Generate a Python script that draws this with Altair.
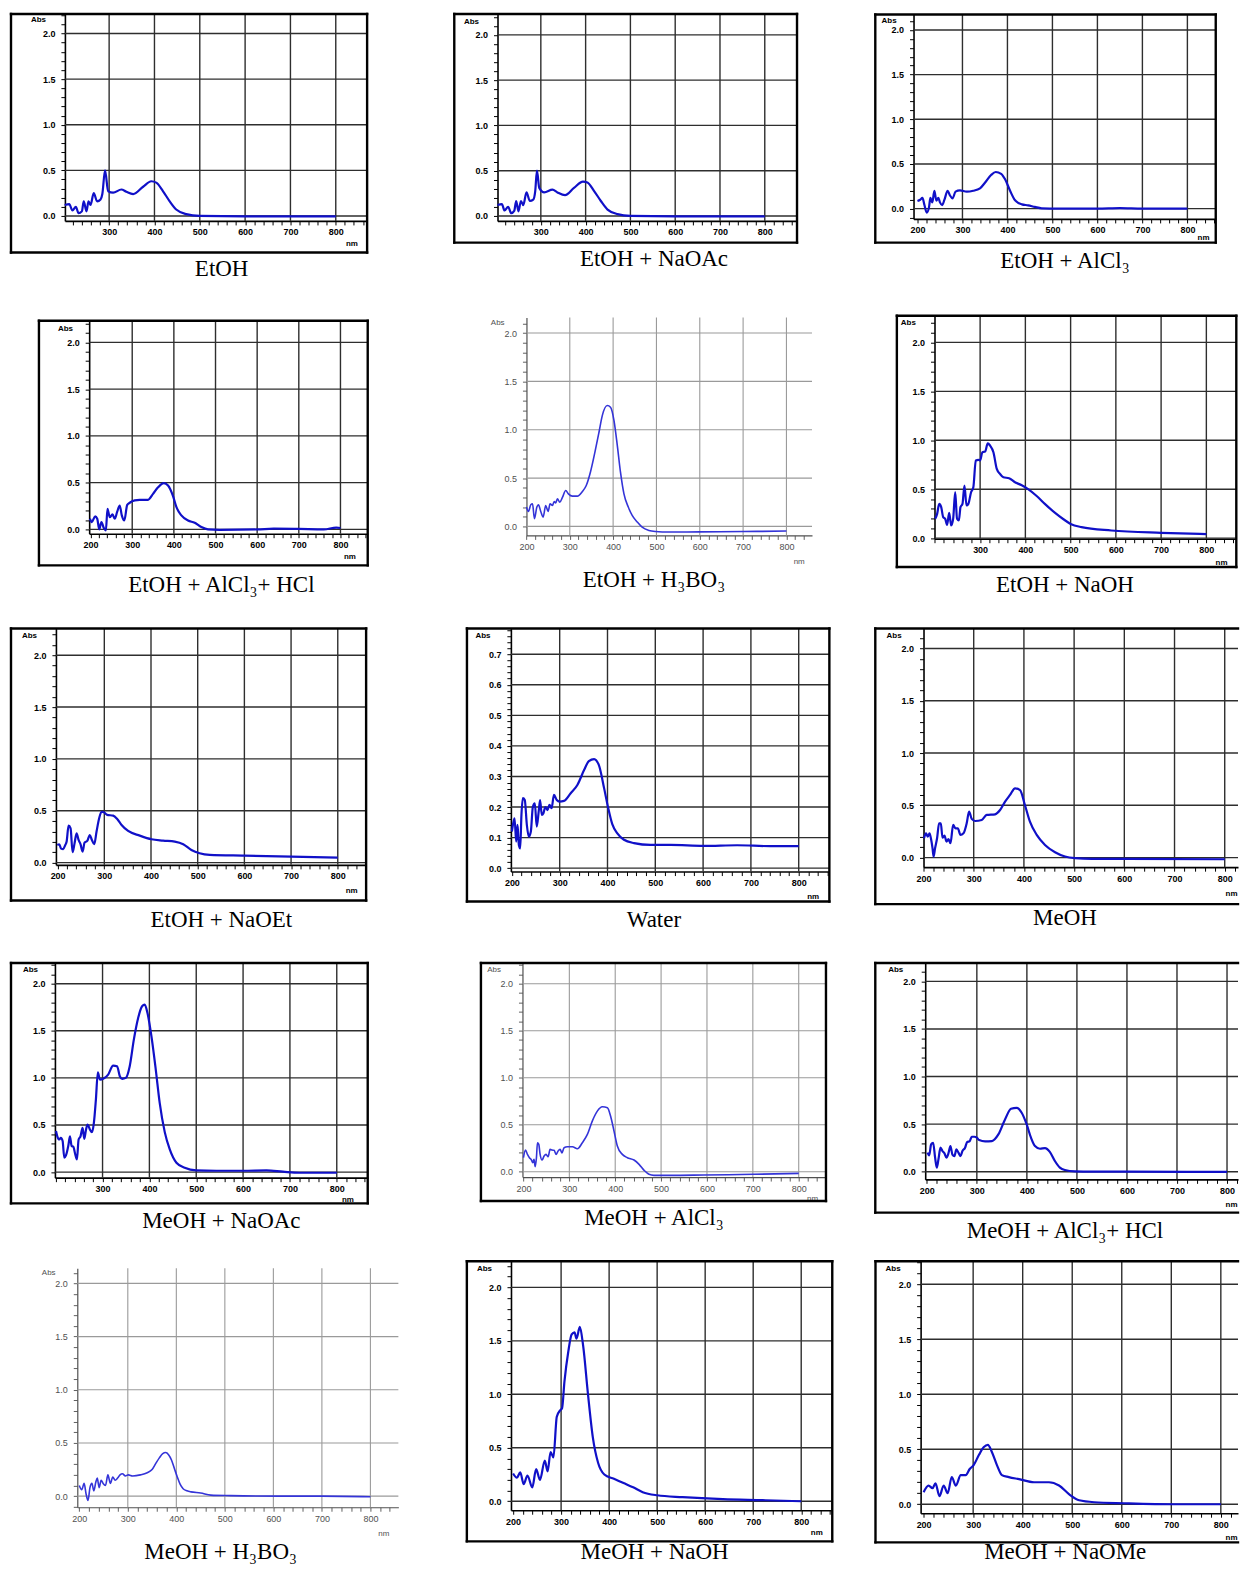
import math
import altair as alt
import pandas as pd

# ---------------- data ----------------
CAPTIONS = ["EtOH", "EtOH + NaOAc", "EtOH + AlCl₃",
            "EtOH + AlCl₃+ HCl", "EtOH + H₃BO₃", "EtOH + NaOH",
            "EtOH + NaOEt", "Water", "MeOH",
            "MeOH + NaOAc", "MeOH + AlCl₃", "MeOH + AlCl₃+ HCl",
            "MeOH + H₃BO₃", "MeOH + NaOH", "MeOH + NaOMe"]

X_GRID = [300, 400, 500, 600, 700, 800]

ETOH_NM = [202, 212, 219, 226.6, 232.5, 239.8, 244, 250, 254.5, 259, 266, 273.6, 281, 285, 291, 297.8, 308.8, 327, 338, 353,
           375, 393, 404, 419, 433.6, 448, 470, 500, 600, 700, 800]
ETOH_ABS = [0.12, 0.13, 0.06, 0.10, 0.03, 0.05, 0.16, 0.05, 0.16, 0.12, 0.25, 0.16, 0.18, 0.24, 0.50, 0.27, 0.255, 0.29, 0.265, 0.24,
            0.32, 0.38, 0.365, 0.27, 0.16, 0.07, 0.02, 0.0, -0.005, -0.005, -0.005]

ETOH_NAOAC_NM = [203.4, 213, 219, 227, 234, 240.6, 245, 250, 255.6, 260.8, 268, 275.6, 283, 287.5, 291.3, 296.5, 307.6, 326, 337, 354,
                 374, 394, 404, 419, 434, 449, 471, 500, 600, 700, 800]
ETOH_NAOAC_ABS = [0.12, 0.13, 0.06, 0.10, 0.03, 0.055, 0.165, 0.05, 0.165, 0.12, 0.26, 0.165, 0.18, 0.275, 0.50, 0.31, 0.26, 0.29, 0.26, 0.23,
                  0.31, 0.38, 0.37, 0.275, 0.165, 0.07, 0.02, 0.0, -0.005, -0.005, -0.005]

ETOH_ALCL3_NM = [200, 206, 211, 215.5, 220.6, 225.8, 228.7, 233, 237.6, 242, 246.4, 250, 255, 260, 267, 272, 278, 284.6, 294.5, 309.6,
                 324, 339, 350, 363.6, 374, 386, 394.8, 405.9, 417, 432, 446, 461, 476, 512, 600, 650, 700, 800]
ETOH_ALCL3_ABS = [0.086, 0.10, 0.12, 0.04, -0.045, 0.02, 0.12, 0.07, 0.20, 0.09, 0.12, 0.07, 0.04, 0.10, 0.20, 0.15, 0.115, 0.19, 0.205, 0.19,
                  0.20, 0.227, 0.29, 0.376, 0.41, 0.39, 0.328, 0.20, 0.093, 0.048, 0.037, 0.019, 0.004, 0.0, 0.0, 0.005, 0.0, 0.0]

ETOH_ALCL3_HCL_NM = [198.4, 203, 211, 216, 220.8, 226, 232, 236.7, 240.7, 246, 252.7, 258, 264, 270, 275, 281, 288, 294, 306, 318,
                     338, 350, 362, 376, 386, 398, 406, 418, 434, 450, 466, 482, 510, 600, 640, 700, 760, 790, 800]
ETOH_ALCL3_HCL_ABS = [0.114, 0.078, 0.14, 0.114, 0.0, 0.078, 0.014, -0.01, 0.22, 0.13, 0.16, 0.114, 0.19, 0.256, 0.15, 0.096, 0.263, 0.285, 0.31, 0.317,
                      0.317, 0.38, 0.45, 0.495, 0.47, 0.356, 0.24, 0.15, 0.096, 0.071, 0.025, 0.0, -0.004, 0.0, 0.008, 0.005, 0.0, 0.02, 0.015]

ETOH_H3BO3_NM = [200, 204.6, 210, 214, 218.4, 224, 227.6, 233, 238.4, 244.5, 250, 254.5, 260, 264, 267.6, 271.4, 277, 283, 290.6, 296.8,
                 306, 317.5, 329, 338, 348, 358, 367.4, 375, 386.6, 394, 402, 409.7, 417, 425, 435, 444, 455.8, 467, 482.6, 498,
                 529, 600, 700, 800]
ETOH_H3BO3_ABS = [0.2, 0.155, 0.224, 0.234, 0.08, 0.2, 0.224, 0.155, 0.096, 0.217, 0.155, 0.234, 0.217, 0.258, 0.244, 0.286, 0.25, 0.30, 0.372, 0.337,
                  0.313, 0.313, 0.361, 0.423, 0.568, 0.768, 0.974, 1.146, 1.25, 1.232, 1.095, 0.836, 0.561, 0.337, 0.2, 0.114, 0.045, -0.007, -0.041, -0.052,
                  -0.058, -0.056, -0.053, -0.048]

ETOH_NAOH_NM = [200.7, 205, 209.6, 214, 218.4, 222.8, 227, 231.6, 236, 240.4, 244.9, 249, 253, 256.6, 261, 265.4, 269.9, 274, 280, 285,
                290.4, 296.3, 300, 305, 311, 316.9, 322, 329.4, 336.8, 344, 351.5, 364, 377, 392, 406, 425, 443, 465, 485, 500,
                524, 590, 700, 800]
ETOH_NAOH_ABS = [0.197, 0.248, 0.35, 0.316, 0.214, 0.197, 0.136, 0.259, 0.129, 0.197, 0.469, 0.197, 0.18, 0.316, 0.35, 0.537, 0.333, 0.35, 0.469, 0.52,
                 0.793, 0.80, 0.793, 0.878, 0.884, 0.969, 0.946, 0.878, 0.707, 0.656, 0.622, 0.612, 0.571, 0.54, 0.50, 0.43, 0.35, 0.26, 0.19, 0.145,
                 0.112, 0.078, 0.054, 0.041]

ETOH_NAOET_NM = [199.3, 203.6, 207, 212, 216.4, 219.2, 223.5, 227.8, 232, 236.3, 240.6, 244.9, 249, 253.5, 257.7, 263.4, 269, 273.4, 278.4, 283.4,
                 289, 294, 299, 306, 319, 327.6, 337, 351, 376, 401, 426, 451, 469, 486.5, 504, 525.7, 600, 700, 800]
ETOH_NAOET_ABS = [0.17, 0.177, 0.138, 0.13, 0.17, 0.2, 0.356, 0.33, 0.1, 0.186, 0.283, 0.218, 0.177, 0.106, 0.193, 0.209, 0.266, 0.218, 0.177, 0.3,
                  0.427, 0.49, 0.485, 0.46, 0.453, 0.42, 0.363, 0.305, 0.26, 0.225, 0.212, 0.202, 0.177, 0.122, 0.09, 0.074, 0.067, 0.058, 0.048]

WATER_NM = [200, 202.8, 205.6, 209, 211.8, 214.6, 217.4, 220, 223, 227, 231.3, 235.5, 239.7, 243.8, 248, 252, 256.4, 259, 262.6, 266,
            270, 274.5, 278.6, 283, 288, 293.9, 299.5, 309, 323, 337, 351, 361, 372, 382, 393, 401, 410, 420.6, 434.5, 455.4,
            490, 532, 601.5, 671, 740.7, 800]
WATER_ABS = [0.12, 0.147, 0.163, 0.087, 0.142, 0.076, 0.065, 0.174, 0.229, 0.223, 0.142, 0.103, 0.12, 0.2, 0.212, 0.136, 0.19, 0.223, 0.174, 0.18,
             0.2, 0.19, 0.207, 0.196, 0.24, 0.223, 0.218, 0.22, 0.245, 0.272, 0.321, 0.35, 0.357, 0.337, 0.261, 0.2, 0.144, 0.114, 0.093, 0.082,
             0.076, 0.076, 0.073, 0.075, 0.072, 0.072]

MEOH_NM = [201, 205, 208.6, 212, 215, 218, 220, 223, 227, 231, 234.5, 237.8, 241.8, 245.8, 249.7, 253.7, 259, 264, 268.3, 273.6,
           279.6, 286, 290.8, 296, 302.8, 316, 326, 342.6, 352.5, 362.5, 372.4, 382.4, 392.3, 402, 412, 425.5, 442, 462, 481.8, 501.7,
           535, 600, 800]
MEOH_ABS = [0.185, 0.232, 0.2, 0.232, 0.178, 0.089, 0.01, 0.089, 0.185, 0.328, 0.328, 0.19, 0.21, 0.153, 0.178, 0.137, 0.312, 0.28, 0.28, 0.217,
            0.232, 0.328, 0.44, 0.37, 0.35, 0.36, 0.408, 0.414, 0.455, 0.535, 0.6, 0.662, 0.646, 0.503, 0.344, 0.217, 0.121, 0.051, 0.01, -0.006,
            -0.013, -0.013, -0.016]

MEOH_NAOAC_NM = [200.6, 203.4, 207.7, 211, 214.8, 218.3, 221.9, 226.8, 230.4, 234, 237.5, 241.8, 245.3, 248.9, 253, 257.4, 261, 264.5, 268, 273,
                 277.3, 281.5, 285.8, 290, 294.3, 301.4, 312, 322.7, 331, 336.9, 341.9, 349.7, 358, 366.8, 376, 384.5, 390, 395.9, 404.4, 413.6,
                 422, 432.8, 443.5, 457.7, 475.4, 500, 543, 600, 650, 685, 720, 800]
MEOH_NAOAC_ABS = [0.435, 0.38, 0.346, 0.364, 0.33, 0.152, 0.177, 0.276, 0.38, 0.276, 0.27, 0.187, 0.134, 0.346, 0.38, 0.47, 0.353, 0.445, 0.505, 0.452,
                  0.424, 0.523, 0.77, 1.06, 0.982, 0.99, 1.035, 1.13, 1.124, 1.018, 0.99, 1.0, 1.124, 1.406, 1.636, 1.76, 1.777, 1.689, 1.44, 1.088,
                  0.735, 0.424, 0.24, 0.099, 0.046, 0.018, 0.014, 0.014, 0.018, 0.004, -0.007, -0.007]

MEOH_ALCL3_NM = [200, 204.4, 208.7, 213, 217.4, 220.3, 223, 225.4, 228.3, 230.5, 233.4, 236.3, 240.6, 245, 249.3, 253.7, 258, 262.4, 266.8, 271,
                 275.5, 279.8, 284, 288.5, 295.8, 306.7, 317.6, 328.4, 339.3, 350, 361, 372, 383, 390, 397.4, 404.6, 415.5, 426.4, 441, 452,
                 463, 473.6, 484.5, 520.8, 593, 702, 800]
MEOH_ALCL3_ABS = [0.149, 0.23, 0.184, 0.149, 0.124, 0.096, 0.131, 0.053, 0.149, 0.308, 0.29, 0.184, 0.124, 0.166, 0.184, 0.159, 0.237, 0.23, 0.227, 0.184,
                  0.22, 0.237, 0.2, 0.255, 0.265, 0.265, 0.244, 0.308, 0.396, 0.538, 0.644, 0.69, 0.68, 0.59, 0.432, 0.273, 0.184, 0.149, 0.124, 0.078,
                  0.014, -0.028, -0.039, -0.039, -0.035, -0.028, -0.018]

MEOH_ALCL3_HCL_NM = [201.3, 204.7, 208.6, 212.6, 216.6, 220, 223.3, 227.3, 231.3, 235.3, 239.3, 243.2, 247.2, 251.2, 255.2, 259.2, 263.2, 267.2, 271.2, 276.5,
                     280.5, 285.8, 289.8, 295, 300, 304.6, 316.6, 330, 343, 356.3, 368.3, 379.6, 389.6, 399.6, 408.2, 416.2, 426.2, 436.2, 446.2, 456,
                     466, 476, 496, 529, 596, 800]
MEOH_ALCL3_HCL_ABS = [0.2, 0.171, 0.287, 0.304, 0.147, 0.042, 0.13, 0.252, 0.217, 0.192, 0.147, 0.192, 0.27, 0.18, 0.164, 0.234, 0.2, 0.164, 0.217, 0.252,
                      0.311, 0.322, 0.367, 0.367, 0.357, 0.332, 0.318, 0.322, 0.392, 0.549, 0.661, 0.671, 0.619, 0.497, 0.357, 0.269, 0.241, 0.248, 0.206, 0.112,
                      0.042, 0.017, 0.003, 0.0, 0.0, -0.003]

MEOH_H3BO3_NM = [200, 205, 210, 214, 218, 222, 226, 230, 234, 237, 241, 245, 249, 254, 259, 264, 269, 274, 279, 284,
                 289, 295, 301, 310, 326, 340, 350, 358, 365, 372, 378, 384, 390, 396, 402, 408, 414, 422, 430, 450,
                 471, 512, 614, 700, 800]
MEOH_H3BO3_ABS = [0.10, 0.06, 0.12, 0.02, -0.04, 0.08, 0.12, 0.05, 0.13, 0.17, 0.08, 0.15, 0.12, 0.10, 0.20, 0.12, 0.18, 0.15, 0.17, 0.20,
                  0.21, 0.19, 0.20, 0.19, 0.20, 0.22, 0.25, 0.31, 0.36, 0.40, 0.41, 0.39, 0.34, 0.26, 0.18, 0.11, 0.07, 0.05, 0.04, 0.03,
                  0.01, 0.005, 0.0, 0.0, -0.005]

MEOH_NAOH_NM = [200, 208, 215, 222, 230, 240, 248, 256, 266, 272, 278, 284, 291, 298, 302, 307, 315, 322, 328, 332,
                339, 346, 356, 366, 377, 390, 410, 430, 450, 470, 500, 553, 637, 720, 800]
MEOH_NAOH_ABS = [0.26, 0.22, 0.27, 0.16, 0.24, 0.13, 0.30, 0.20, 0.38, 0.28, 0.46, 0.41, 0.79, 0.85, 0.87, 1.12, 1.40, 1.56, 1.58, 1.52,
                 1.63, 1.45, 1.0, 0.6, 0.36, 0.25, 0.21, 0.17, 0.13, 0.085, 0.056, 0.038, 0.019, 0.01, 0.0]

MEOH_NAOME_NM = [200, 210, 218, 224, 232, 240.5, 248.6, 256.8, 265, 275, 285, 293, 301, 311.5, 321.6, 329.7, 337.8, 348, 358, 372,
                 392.6, 423, 453, 473.4, 494, 514, 544.6, 605, 706, 800]
MEOH_NAOME_ABS = [0.11, 0.17, 0.146, 0.19, 0.073, 0.17, 0.10, 0.247, 0.17, 0.265, 0.265, 0.32, 0.356, 0.447, 0.52, 0.54, 0.475, 0.356, 0.265, 0.247,
                  0.228, 0.20, 0.20, 0.17, 0.09, 0.036, 0.018, 0.009, 0.0, 0.0]

SERIES = [(ETOH_NM, ETOH_ABS), (ETOH_NAOAC_NM, ETOH_NAOAC_ABS), (ETOH_ALCL3_NM, ETOH_ALCL3_ABS),
          (ETOH_ALCL3_HCL_NM, ETOH_ALCL3_HCL_ABS), (ETOH_H3BO3_NM, ETOH_H3BO3_ABS), (ETOH_NAOH_NM, ETOH_NAOH_ABS),
          (ETOH_NAOET_NM, ETOH_NAOET_ABS), (WATER_NM, WATER_ABS), (MEOH_NM, MEOH_ABS),
          (MEOH_NAOAC_NM, MEOH_NAOAC_ABS), (MEOH_ALCL3_NM, MEOH_ALCL3_ABS), (MEOH_ALCL3_HCL_NM, MEOH_ALCL3_HCL_ABS),
          (MEOH_H3BO3_NM, MEOH_H3BO3_ABS), (MEOH_NAOH_NM, MEOH_NAOH_ABS), (MEOH_NAOME_NM, MEOH_NAOME_ABS)]

# ---------------- layout (page pixel geometry of each panel) ----------------
COLS = [(8, 440), (440, 850), (850, 1240)]
ROWS = [(8, 300), (300, 606), (606, 940), (940, 1246), (1246, 1567)]

GEO = [
    dict(plot=(65, 12.7, 367.7, 220), frame=(11, 12.7, 367.7, 251.7), xcal=((300, 109.3), (800, 336.3)), ycal=((0, 215), (2, 32.3)),
         absl=(38, 18), nml=(352, 243), cap=(222, 268), xlab0=300),
    dict(plot=(498.3, 12.7, 798.3, 220), frame=(455, 12.7, 798.3, 241.7), xcal=((300, 541.7), (800, 766)), ycal=((0, 215), (2, 33.7)),
         absl=(471.7, 20), nml=None, cap=(655, 258), xlab0=300),
    dict(plot=(915, 13.3, 1217.7, 218), frame=(876.7, 13.3, 1217.7, 241.7), xcal=((300, 964), (800, 1189.3)), ycal=((0, 207.7), (2, 28.7)),
         absl=(890, 19), nml=(1205, 237), cap=(1066.7, 260), xlab0=200),
    dict(plot=(89.3, 320, 368.3, 533.3), frame=(39, 320, 368.3, 565), xcal=((200, 90.7), (800, 341)), ycal=((0, 529), (2, 341.7)),
         absl=(65, 327.7), nml=(350, 556), cap=(221.7, 585), xlab0=200),
    dict(plot=(527.3, 316.7, 813.3, 535), frame=None, xcal=((200, 527.3), (800, 787.7)), ycal=((0, 526), (2, 332.3)),
         absl=(498, 322), nml=(800, 561), cap=(655, 580), xlab0=200, light=True),
    dict(plot=(936, 315, 1238.3, 538.3), frame=(898.3, 315, 1238.3, 566.7), xcal=((300, 981.7), (800, 1208.3)), ycal=((0, 537.7), (2, 341.7)),
         absl=(909.3, 321.7), nml=(1223, 562), cap=(1066.7, 585), xlab0=300),
    dict(plot=(56, 628.3, 366.7, 865), frame=(11, 628.3, 366.7, 900.7), xcal=((200, 57.7), (800, 338.3)), ycal=((0, 862.7), (2, 655)),
         absl=(29, 635), nml=(351.7, 891), cap=(221.7, 920), xlab0=200),
    dict(plot=(511.7, 628.3, 830.7, 871.7), frame=(467.7, 628.3, 830.7, 901.7), xcal=((200, 512.7), (800, 800)), ycal=((0, 868.3), (0.7, 654)),
         absl=(483.3, 635.7), nml=(814, 897), cap=(655, 920), xlab0=200, ymajor=0.1, yminor=0.02),
    dict(plot=(925, 628.3, 1240, 867.3), frame=(876.7, 628.3, None, 904.3), xcal=((200, 925), (800, 1226.7)), ycal=((0, 857.7), (2, 648.3)),
         absl=(895, 635), nml=(1233, 894), cap=(1066.7, 918.3), xlab0=200),
    dict(plot=(55, 963.3, 368.3, 1178.3), frame=(11, 963.3, 368.3, 1204), xcal=((300, 102.7), (800, 337.3)), ycal=((0, 1172.7), (2, 984)),
         absl=(30, 969.3), nml=(348, 1200), cap=(221.7, 1221.7), xlab0=300),
    dict(plot=(523.3, 963.3, 827.3, 1177.7), frame=(481.7, 963.3, 827.3, 1201.7), xcal=((200, 524.3), (800, 800)), ycal=((0, 1172.3), (2, 984)),
         absl=(494.3, 969.3), nml=(813.3, 1199), cap=(655, 1218.3), xlab0=200, light=True),
    dict(plot=(926.7, 963.3, 1240, 1180), frame=(876.7, 963.3, None, 1213.3), xcal=((200, 928.3), (800, 1229)), ycal=((0, 1172.3), (2, 981.7)),
         absl=(896.7, 969.3), nml=(1233, 1205), cap=(1066.7, 1231.7), xlab0=200),
    dict(plot=(77.4, 1269, 399, 1508.4), frame=None, xcal=((200, 79.4), (800, 371)), ycal=((0, 1497.3), (2, 1284.2)),
         absl=(48.3, 1273.5), nml=(384, 1534.5), cap=(221, 1553), xlab0=200, light=True),
    dict(plot=(511.8, 1262, 833.6, 1511.4), frame=(467.6, 1262, 833.6, 1542.6), xcal=((200, 513.9), (800, 802.5)), ycal=((0, 1502.4), (2, 1288.2)),
         absl=(484.7, 1269.3), nml=(817.6, 1533.6), cap=(655.7, 1553), xlab0=200),
    dict(plot=(922.1, 1262, 1240, 1514.4), frame=(876.9, 1262, None, 1543.6), xcal=((200, 925.1), (800, 1222.8)), ycal=((0, 1505.4), (2, 1285.1)),
         absl=(894, 1269.3), nml=(1233, 1538.6), cap=(1066.9, 1553), xlab0=200),
]

DARK = dict(grid="#2e2e2e", gridw=1.4, dom="#000000", domw=1.6, tick="#000000", lab="#000000", labw="bold",
            line="#1010c8", linew=2.2)
LIGHT = dict(grid="#9a9a9a", gridw=1.1, dom="#505050", domw=1.2, tick="#606060", lab="#505050", labw="normal",
             line="#3434d8", linew=1.6)

SANS = "Liberation Sans, Arial, sans-serif"
SERIF = "Liberation Serif, Times New Roman, serif"
ONE = pd.DataFrame({"k": [0]})


def make_panel(i, col, row):
    g = GEO[i]
    st = LIGHT if g.get("light") else DARK
    cx0, cx1 = COLS[col]
    ry0, ry1 = ROWS[row]
    CW, CH = cx1 - cx0, ry1 - ry0
    PL, PT, PR, PB = g["plot"]
    pl, pt, pr, pb = PL - cx0, PT - ry0, PR - cx0, PB - ry0   # plot box inside the cell
    (xa, pxa), (xb, pxb) = g["xcal"]
    (ya, pya), (yb, pyb) = g["ycal"]
    sx = (pxb - pxa) / (xb - xa)
    x0, x1 = xa + (PL - pxa) / sx, xa + (PR - pxa) / sx
    sy = (pya - pyb) / (yb - ya)
    ytop, ybot = ya + (pya - PT) / sy, ya + (pya - PB) / sy

    xticks = list(range(int(math.ceil(x0 / 20.0)) * 20, int(math.floor(x1)) + 1, 20))
    ymaj = g.get("ymajor", 0.5)
    ymin = g.get("yminor", 0.1)
    yticks = [round(k * ymin, 4) for k in range(int(math.ceil(ybot / ymin - 1e-9)), int(math.floor(ytop / ymin + 1e-9)) + 1)]
    ygrid = [round(k * ymaj, 4) for k in range(0, int(math.floor(ytop / ymaj + 1e-9)) + 1)]

    xlab_test = f"datum.value % 100 === 0 && datum.value >= {g['xlab0']} && datum.value <= 800"
    ymaj_test = f"abs(datum.value / {ymaj} - round(datum.value / {ymaj})) < 0.001"

    xscale = alt.Scale(domain=[x0, x1], range=[pl, pr], nice=False, zero=False)
    yscale = alt.Scale(domain=[ybot, ytop], range=[pb, pt], nice=False, zero=False)

    nml = g["nml"]
    xaxis_kw = dict(title="")
    if nml is not None:
        xaxis_kw = dict(title="nm", titleX=nml[0] - cx0, titleY=nml[1] - PB, titleAlign="center",
                        titleBaseline="middle", titleFont=SANS, titleFontSize=8, titleFontWeight=st["labw"],
                        titleColor=st["lab"])
    x_axis = alt.Axis(values=xticks, format="d", labelExpr=f"({xlab_test}) ? datum.label : ''",
                      grid=False, offset=pb - CH,
                      domainColor=st["dom"], domainWidth=st["domw"], tickColor=st["tick"], tickSize=4, tickWidth=1,
                      labelFont=SANS, labelFontSize=9, labelFontWeight=st["labw"], labelColor=st["lab"],
                      labelPadding=3, labelFlush=False, labelOverlap=False, **xaxis_kw)
    absl = g["absl"]
    y_axis = alt.Axis(values=yticks, format=".1f", labelExpr=f"({ymaj_test}) ? datum.label : ''",
                      grid=False, offset=-pl,
                      domainColor=st["dom"], domainWidth=st["domw"], tickColor=st["tick"], tickSize=4, tickWidth=1,
                      labelFont=SANS, labelFontSize=9, labelFontWeight=st["labw"], labelColor=st["lab"],
                      labelPadding=6, labelFlush=False, labelOverlap=False,
                      title="Abs", titleAngle=0, titleX=absl[0] - PL, titleY=absl[1] - ry0, titleAlign="center",
                      titleBaseline="middle", titleFont=SANS, titleFontSize=8, titleFontWeight=st["labw"],
                      titleColor=st["lab"])

    layers = []
    # grid lines at the major tick values, through the panel's own scales
    vgrid = pd.DataFrame({"nm": [v for v in X_GRID if x0 <= v <= x1]})
    layers.append(alt.Chart(vgrid).mark_rule(color=st["grid"], strokeWidth=st["gridw"]).encode(
        x=alt.X("nm:Q", scale=xscale, axis=x_axis), y=alt.value(pt), y2=alt.value(pb)))
    hgrid = pd.DataFrame({"abs": ygrid})
    layers.append(alt.Chart(hgrid).mark_rule(color=st["grid"], strokeWidth=st["gridw"]).encode(
        y=alt.Y("abs:Q", scale=yscale, axis=y_axis), x=alt.value(pl), x2=alt.value(pr)))

    fr = g["frame"]
    if fr is not None:
        L, T, R, B = fr
        l, t, b = L - cx0, T - ry0, B - ry0
        r = (R - cx0) if R is not None else CW
        fkw = dict(color="#000000", strokeWidth=2.4, strokeCap="square")
        layers.append(alt.Chart(ONE).mark_rule(**fkw).encode(x=alt.value(l), y=alt.value(t), y2=alt.value(b)))
        layers.append(alt.Chart(ONE).mark_rule(**fkw).encode(x=alt.value(l), x2=alt.value(r), y=alt.value(t)))
        layers.append(alt.Chart(ONE).mark_rule(**fkw).encode(x=alt.value(l), x2=alt.value(r), y=alt.value(b)))
        if R is not None:
            layers.append(alt.Chart(ONE).mark_rule(**fkw).encode(x=alt.value(r), y=alt.value(t), y2=alt.value(b)))

    nm_vals, ab_vals = SERIES[i]
    df = pd.DataFrame({"nm": nm_vals, "abs": ab_vals})
    layers.append(alt.Chart(df).mark_line(color=st["line"], strokeWidth=st["linew"], interpolate="monotone", clip=False).encode(
        x=alt.X("nm:Q", scale=xscale, axis=x_axis),
        y=alt.Y("abs:Q", scale=yscale, axis=y_axis),
    ))
    cap = g["cap"]
    layers.append(alt.Chart(ONE).mark_text(text=CAPTIONS[i], font=SERIF, fontSize=23, color="#000000",
                                            align="center", baseline="middle").encode(
        x=alt.value(cap[0] - cx0), y=alt.value(cap[1] - ry0)))
    return alt.layer(*layers).properties(width=CW, height=CH)


panels = [make_panel(r * 3 + c, c, r) for r in range(5) for c in range(3)]

chart = alt.ConcatChart(concat=panels, columns=3, spacing=0, align="each", bounds="flush",
                        padding=0).configure_view(strokeWidth=0)
chart.save("out.html", embed_options={"renderer": "svg", "actions": False})
